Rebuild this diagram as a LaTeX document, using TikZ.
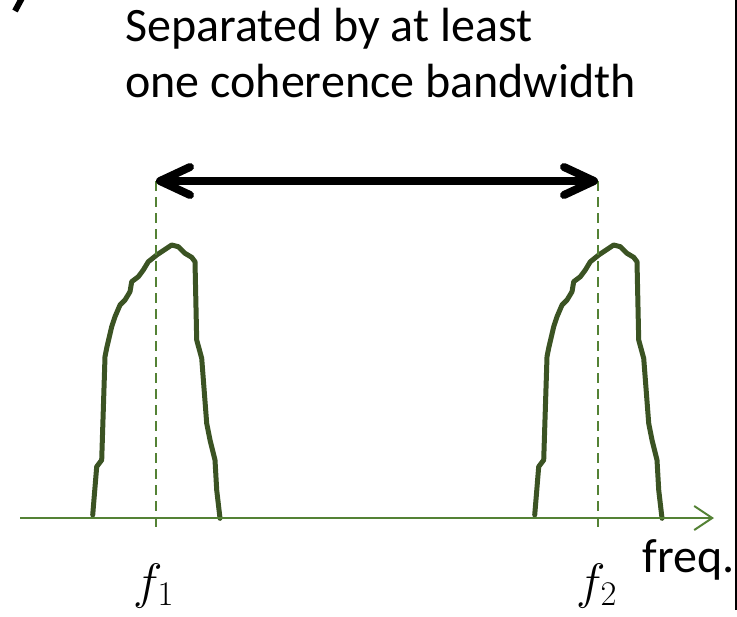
\documentclass[tikz,border=0pt]{standalone}
\usepackage{fontspec}
\setmainfont{Carlito}
\usepackage{tikz}
\usetikzlibrary{arrows.meta, positioning}
\definecolor{axisgreen}{HTML}{548235}
\definecolor{peakgreen}{HTML}{3B5323}

\begin{document}
\begin{tikzpicture}[x=0.5pt, y=-0.5pt, >=Latex]
  \tikzstyle{lbl}=[inner sep=0pt, font=\fontsize{24}{28}\selectfont]
  \tikzstyle{mathlbl}=[inner sep=0pt, font=\fontsize{27}{30}\selectfont]
  \tikzstyle{peak}=[line width=2.5pt, color=peakgreen, line join=round, line cap=round]
  \tikzstyle{guide}=[axisgreen, line width=0.75pt, dash pattern=on 5pt off 3pt]
  \tikzstyle{axisarr}=[axisgreen, line width=1pt, -{Straight Barb[length=9pt,width=12pt]}]
  \tikzstyle{sep}=[line width=4pt, {Straight Barb[round,length=15pt,width=14pt]}-{Straight Barb[round,length=15pt,width=14pt]}]

  \useasboundingbox (0,0) rectangle (737,616);

  % frequency axis and the two carriers
  \coordinate (aL) at (20,518);
  \coordinate (aR) at (714,518);
  \coordinate (d1top) at (156,181);
  \coordinate (d1bot) at (156,530);
  \coordinate (d2top) at (598,181);
  \coordinate (d2bot) at (598,530);

  \foreach \dx in {0,442}
    \draw[peak, shift={(\dx,0)}] plot coordinates {
      (92.7,515) (96.7,466.7) (101.7,460) (105,356.7) (106.7,348)
      (111.7,326.7) (115,316.7) (120,305) (125,300) (130,291.7)
      (131.7,281.7) (138.3,276.7) (143.3,270) (148.3,261.7) (156.7,255)
      (166.7,248.3) (171.7,245) (178.3,246.7) (185,253.3) (191.7,257.3)
      (195,261.7) (196.7,340) (201.7,358.3) (206.7,423.3) (210,440)
      (215,460) (216.7,490) (220,518.3)};

  \draw[guide](d1top)--(d1bot);
  \draw[guide](d2top)--(d2bot);
  \draw[axisarr](aL)--(aR);
  \draw[sep](d1top)--(d2top);

  % labels
  \node[lbl, anchor=north west, align=left](title) at (125,8)
    {Separated by at least\\one coherence bandwidth};
  \node[lbl, anchor=base west](freqlbl) at (642,572){freq.};
  \node[mathlbl, anchor=base](fone) at (154,598){$f_1$};
  \node[mathlbl, anchor=base](ftwo) at (597,598){$f_2$};

  % cropped slide edges
  \draw[line width=3pt](15,11)--(22,-2);
  \draw[line width=1pt](735.5,0)--(735.5,610);
\end{tikzpicture}
\end{document}
